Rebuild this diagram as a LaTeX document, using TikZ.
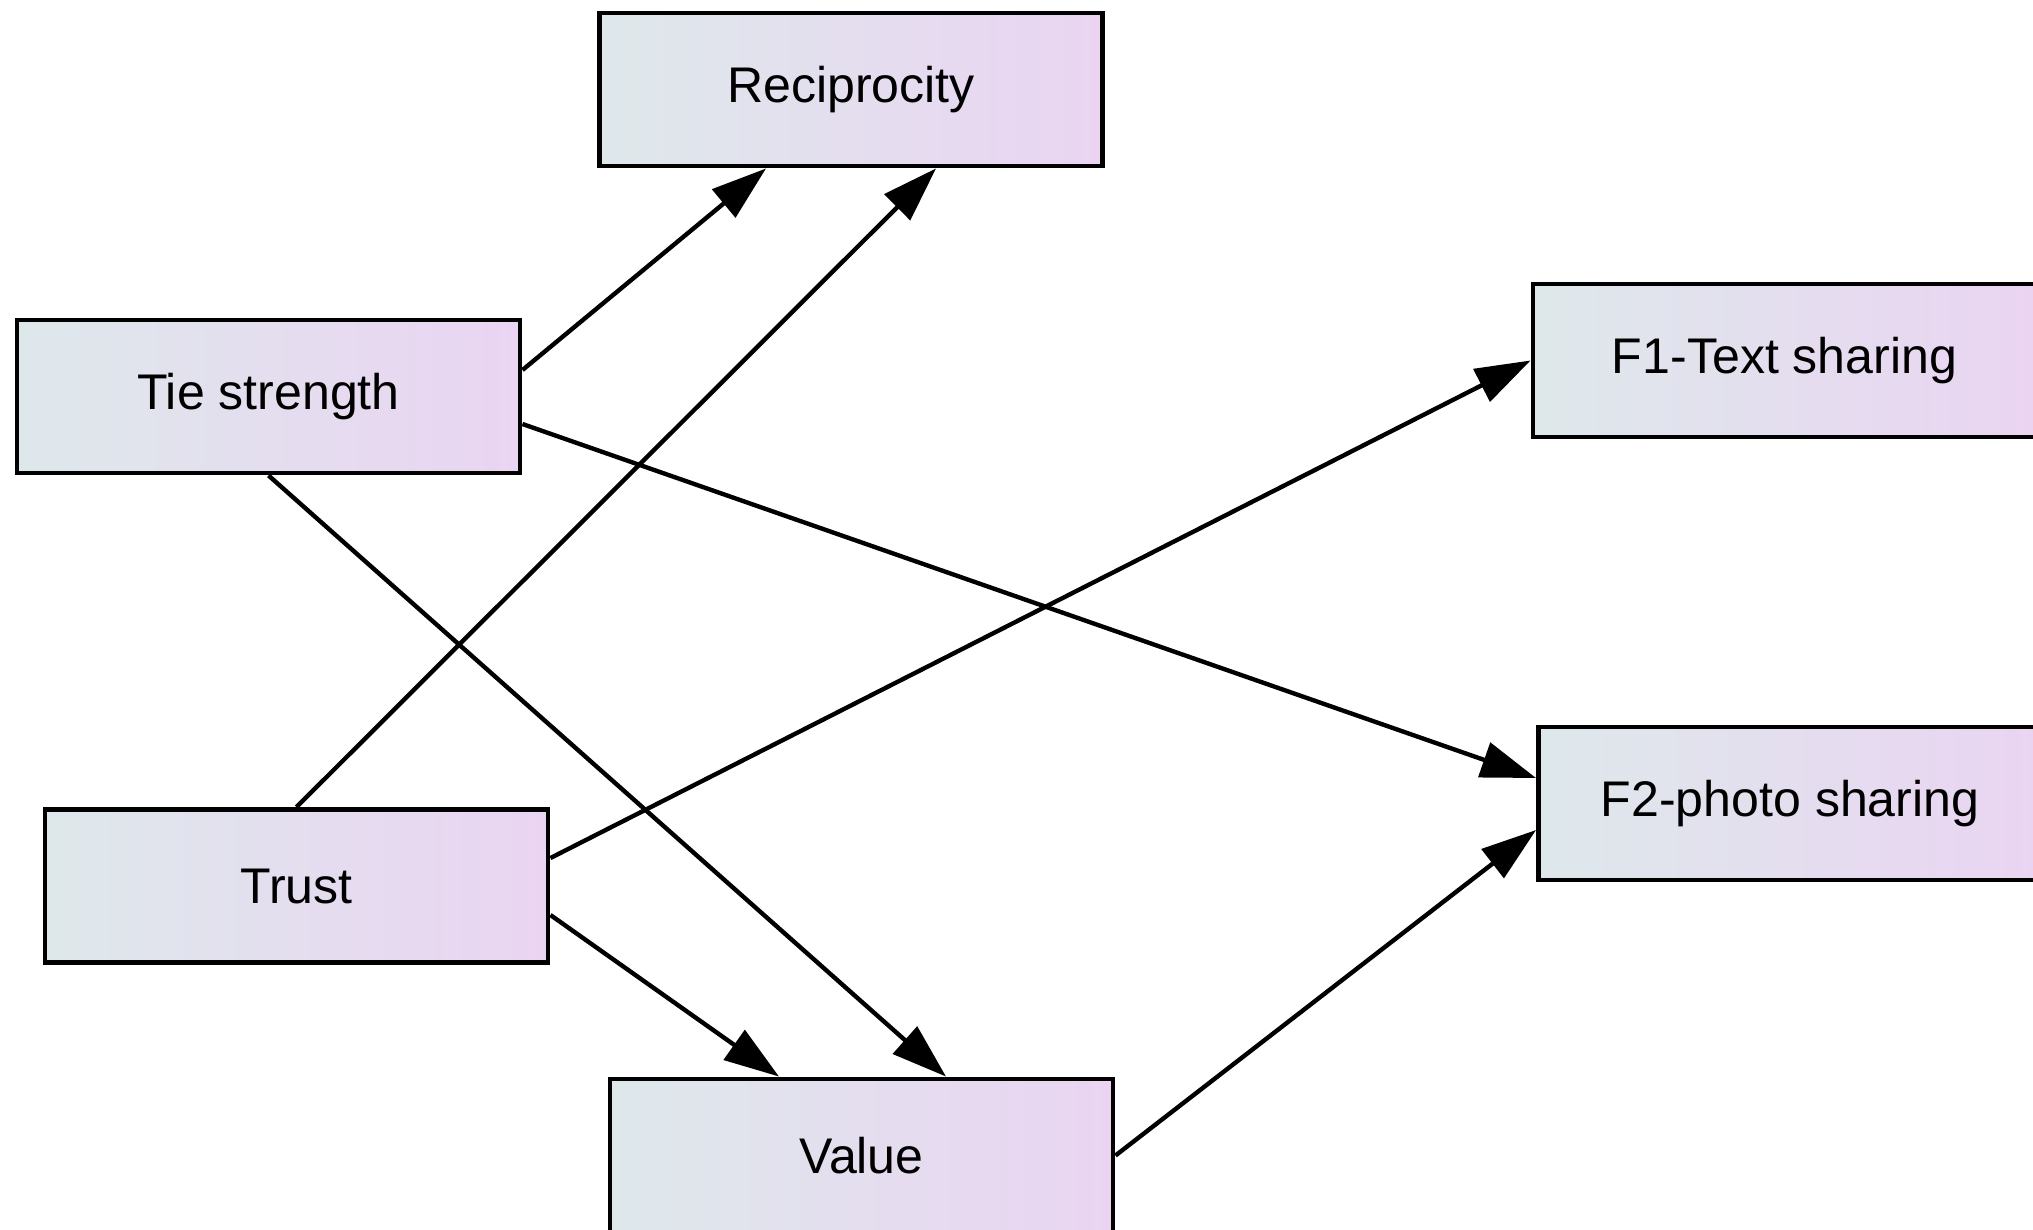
\documentclass[tikz,border=0pt]{standalone}
\usepackage{fontspec}
\setmainfont{Liberation Sans}
\usetikzlibrary{arrows.meta}
\definecolor{boxleft}{RGB}{222,232,235}
\definecolor{boxright}{RGB}{234,212,242}
\begin{document}
\begin{tikzpicture}[
  every node/.style={font=\fontsize{14.25}{17}\selectfont},
  construct/.style={draw=black, line width=1.4pt, rectangle,
    minimum width=5.03cm, minimum height=1.53cm, inner sep=0pt,
    left color=boxleft, right color=boxright},
  path/.style={draw=black, line width=1.25pt,
    -{Triangle[length=0.55cm, width=0.36cm]}}
]
\useasboundingbox (0,0) rectangle (20.33,-12.29);

% latent constructs
\node[construct] (rec)   at (8.51,-0.895)  {\raisebox{-0.5pt}{Reciprocity}};
\node[construct] (tie)   at (2.685,-3.965) {\raisebox{-0.5pt}{Tie strength}};
\node[construct] (trust) at (2.965,-8.86)  {\raisebox{-0.5pt}{Trust}};
\node[construct] (val)   at (8.615,-11.555) {\raisebox{-0.5pt}{Value}};
\node[construct] (f1)    at (17.845,-3.605) {\raisebox{-0.5pt}{F1-Text sharing}};
\node[construct] (f2)    at (17.90,-8.035)  {\raisebox{-0.5pt}{F2-photo sharing}};

% structural paths
\draw[path] ([yshift=0.265cm]tie.east) -- ([xshift=-0.85cm]rec.south);
\draw[path] (trust.north) -- ([xshift=0.85cm]rec.south);
\draw[path] ([yshift=-0.275cm]tie.east) -- ([yshift=0.255cm]f2.west);
\draw[path] (tie.south) -- ([xshift=0.845cm]val.north);
\draw[path] ([yshift=0.28cm]trust.east) -- (f1.west);
\draw[path] ([yshift=-0.29cm]trust.east) -- ([xshift=-0.825cm]val.north);
\draw[path] (val.east) -- ([yshift=-0.265cm]f2.west);
\end{tikzpicture}
\end{document}
